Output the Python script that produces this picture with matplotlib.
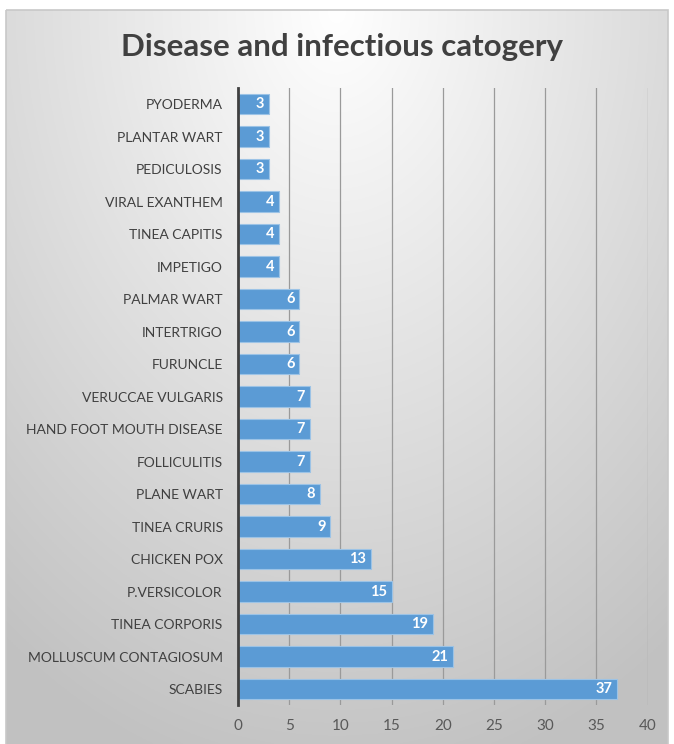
import numpy as np
import matplotlib
matplotlib.use('Agg')
import matplotlib.pyplot as plt
from matplotlib.patches import Rectangle

diseases = ['PYODERMA', 'PLANTAR WART', 'PEDICULOSIS', 'VIRAL EXANTHEM', 'TINEA CAPITIS',
            'IMPETIGO', 'PALMAR WART', 'INTERTRIGO', 'FURUNCLE', 'VERUCCAE VULGARIS',
            'HAND FOOT MOUTH DISEASE', 'FOLLICULITIS', 'PLANE WART', 'TINEA CRURIS',
            'CHICKEN POX', 'P.VERSICOLOR', 'TINEA CORPORIS', 'MOLLUSCUM CONTAGIOSUM', 'SCABIES']
counts = [3, 3, 3, 4, 4, 4, 6, 6, 6, 7, 7, 7, 8, 9, 13, 15, 19, 21, 37]
xticks = [0, 5, 10, 15, 20, 25, 30, 35, 40]

plt.rcParams['font.family'] = ['Lato', 'DejaVu Sans']

fig = plt.figure(figsize=(6.74, 7.44), dpi=100)

# radial gradient background inside the chart frame
bg = fig.add_axes([0, 0, 1, 1], zorder=0)
gx, gy = np.meshgrid(np.linspace(-1, 1, 400), np.linspace(0, 1.6, 440))
r = np.clip(np.sqrt(gx**2 + gy**2) / 1.7, 0, 1)
shade = 1.0 - 0.24 * r
bg.imshow(np.dstack([shade, shade, shade]), extent=[6, 668, 744, 10], aspect='auto')
bg.set_xlim(0, 674)
bg.set_ylim(744, 0)
bg.add_patch(Rectangle((6, 10), 662, 740, fill=False, edgecolor='#c8c8c8', lw=1.2))
bg.axis('off')

ax = fig.add_axes([0.353, 0.052, 0.608, 0.830], zorder=1)
ax.patch.set_alpha(0)
y = np.arange(len(diseases))
ax.barh(y, counts, height=0.62, color='#5b9bd5', edgecolor='#9cc3e6', lw=0.8, zorder=3)
for yi, v in zip(y, counts):
    ax.text(v - 0.45, yi, str(v), ha='right', va='center', color='white',
            fontsize=10.5, fontweight='bold', zorder=4)

ax.set_yticks(y)
ax.set_yticklabels(diseases, fontsize=10, color='#404040')
ax.set_ylim(len(diseases) - 0.5, -0.5)
ax.set_xlim(0, 40)
ax.set_xticks(xticks)
ax.tick_params(axis='x', labelsize=11, labelcolor='#595959', length=0, pad=10)
ax.tick_params(axis='y', length=0, pad=11)
ax.grid(axis='x', color='#9a9a9a', lw=0.9, zorder=1)
for s in ['top', 'right', 'bottom']:
    ax.spines[s].set_visible(False)
ax.spines['left'].set_color('#404040')
ax.spines['left'].set_linewidth(2)
ax.spines['left'].set_zorder(5)

fig.text(0.508, 0.937, 'Disease and infectious catogery', ha='center', va='center',
         fontsize=22.5, fontweight='bold', color='#404040')

plt.savefig('out.png', dpi=100)
